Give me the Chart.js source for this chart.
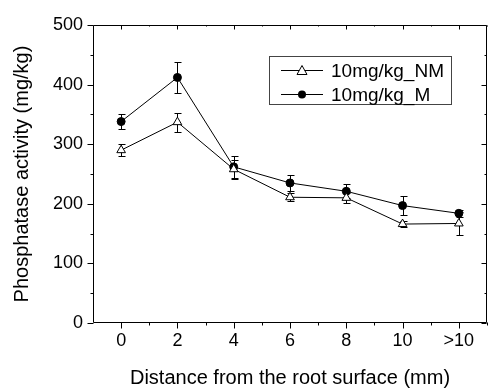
<!DOCTYPE html>
<html>
<head>
<meta charset="utf-8">
<script src="https://cdn.jsdelivr.net/npm/chart.js@4.4.1/dist/chart.umd.min.js"></script>
<style>
  html, body { margin: 0; padding: 0; background: #fff; }
  #wrap { width: 493px; height: 392px; }
</style>
</head>
<body>
<div id="wrap"><canvas id="chart"></canvas></div>
<script>
// distance categories (mm)
const categories = ["0", "2", "4", "6", "8", "10", ">10"];
const yTicks = [0, 100, 200, 300, 400, 500];

// 10mg/kg_NM (open triangles)
const nmValues = [290, 337, 258, 211, 210, 166, 167];
const nmErrors = [10, 16, 16, 7, 8, 5, 20];

// 10mg/kg_M (filled circles)
const mValues = [338, 412, 262, 235, 221, 197, 184];
const mErrors = [13, 26, 18, 14, 12, 16, 6];

const FONT = "'Liberation Sans', Arial, sans-serif";

function toPoints(vals) {
    return vals.map((v, i) => ({ x: i, y: v }));
}

// error bars + axis tick marks + legend
const decorations = {
    id: "decorations",
    beforeDatasetsDraw(chart) {
        const ctx = chart.ctx;
        const xs = chart.scales.x, ys = chart.scales.y;
        ctx.save();
        ctx.strokeStyle = "#000";
        ctx.lineWidth = 1;
        [[nmValues, nmErrors], [mValues, mErrors]].forEach(([vals, errs]) => {
            vals.forEach((v, i) => {
                const px = Math.round(xs.getPixelForValue(i)) + 0.5;
                const top = Math.round(ys.getPixelForValue(v + errs[i])) + 0.5;
                const bot = Math.round(ys.getPixelForValue(v - errs[i])) + 0.5;
                ctx.beginPath();
                ctx.moveTo(px, top); ctx.lineTo(px, bot);
                ctx.moveTo(px - 3, top); ctx.lineTo(px + 4, top);
                ctx.moveTo(px - 3, bot); ctx.lineTo(px + 4, bot);
                ctx.stroke();
            });
        });
        ctx.restore();
    },
    afterDraw(chart) {
        const ctx = chart.ctx;
        const a = chart.chartArea;
        const xs = chart.scales.x, ys = chart.scales.y;
        ctx.save();
        ctx.strokeStyle = "#000";
        ctx.lineWidth = 1;
        const L = Math.round(a.left) + 0.5, R = Math.round(a.right) - 0.5;
        const T = Math.round(a.top) + 0.5, B = Math.round(a.bottom) - 0.5;
        ctx.beginPath();
        ctx.rect(L, T, R - L, B - T);
        // y ticks: outward on left, inward on right
        for (let v = 0; v <= 500; v += 50) {
            const py = Math.round(ys.getPixelForValue(v)) + 0.5;
            const len = v % 100 === 0 ? 6 : 3;
            ctx.moveTo(L - len, py); ctx.lineTo(L, py);
            ctx.moveTo(R, py); ctx.lineTo(R - len + 1, py);
        }
        // x ticks: outward at bottom, inward at top
        for (let v = 0; v <= 6.5; v += 0.5) {
            const px = Math.round(xs.getPixelForValue(v)) + 0.5;
            const len = v % 1 === 0 ? 6 : 3;
            ctx.moveTo(px, B); ctx.lineTo(px, B + len);
            ctx.moveTo(px, T); ctx.lineTo(px, T + len - 2);
        }
        ctx.stroke();

        // legend
        const bx = 269.5, by = 56.5, bw = 182, bh = 48;
        ctx.strokeStyle = "#444";
        ctx.strokeRect(bx, by, bw, bh);
        ctx.font = "19px " + FONT;
        ctx.textBaseline = "middle";
        ctx.fillStyle = "#000";
        const rows = [
            { label: "10mg/kg_NM", style: "triangle", y: 70.5 },
            { label: "10mg/kg_M", style: "circle", y: 94.5 }
        ];
        rows.forEach(r => {
            ctx.strokeStyle = "#000";
            ctx.beginPath();
            ctx.moveTo(281, r.y); ctx.lineTo(323, r.y);
            ctx.stroke();
            if (r.style === "circle") {
                ctx.beginPath();
                ctx.arc(302, r.y, 4, 0, Math.PI * 2);
                ctx.fillStyle = "#000";
                ctx.fill();
            } else {
                ctx.beginPath();
                ctx.moveTo(302, r.y - 5);
                ctx.lineTo(307, r.y + 4);
                ctx.lineTo(297, r.y + 4);
                ctx.closePath();
                ctx.fillStyle = "#fff";
                ctx.fill();
                ctx.stroke();
            }
            ctx.fillStyle = "#000";
            ctx.fillText(r.label, 331, r.y + 1);
        });
        ctx.restore();
    }
};

new Chart(document.getElementById("chart"), {
    type: "line",
    data: {
        datasets: [
            {
                label: "10mg/kg_NM",
                data: toPoints(nmValues),
                borderColor: "#000",
                borderWidth: 1,
                pointStyle: "triangle",
                pointRadius: 5,
                pointBackgroundColor: "#fff",
                pointBorderColor: "#000",
                pointBorderWidth: 1,
                tension: 0
            },
            {
                label: "10mg/kg_M",
                data: toPoints(mValues),
                borderColor: "#000",
                borderWidth: 1,
                pointStyle: "circle",
                pointRadius: 4,
                pointBackgroundColor: "#000",
                pointBorderColor: "#000",
                tension: 0
            }
        ]
    },
    options: {
        responsive: true,
        maintainAspectRatio: false,
        animation: false,
        layout: { padding: { top: 25, right: 2, left: 0, bottom: 0 } },
        plugins: {
            legend: { display: false },
            tooltip: { enabled: false }
        },
        scales: {
            x: {
                type: "linear",
                min: -0.5,
                max: 6.5,
                afterBuildTicks: s => { s.ticks = categories.map((c, i) => ({ value: i })); },
                afterFit: s => { s.height = 69; },
                grid: { display: false, drawTicks: false },
                border: { display: false },
                ticks: {
                    color: "#000",
                    font: { family: FONT, size: 18 },
                    padding: 7,
                    maxRotation: 0,
                    autoSkip: false,
                    callback: v => categories[v]
                },
                title: {
                    display: true,
                    text: "Distance from the root surface (mm)",
                    color: "#000",
                    font: { family: FONT, size: 20 },
                    padding: { top: 0, bottom: 2 }
                }
            },
            y: {
                min: 0,
                max: 500,
                afterBuildTicks: s => { s.ticks = yTicks.map(v => ({ value: v })); },
                afterFit: s => { s.width = 93; },
                grid: { display: false, drawTicks: false },
                border: { display: false },
                ticks: {
                    color: "#000",
                    font: { family: FONT, size: 18 },
                    padding: 10
                },
                title: {
                    display: true,
                    text: "Phosphatase activity (mg/kg)",
                    color: "#000",
                    font: { family: FONT, size: 20 },
                    padding: { top: 10, bottom: 0 }
                }
            }
        }
    },
    plugins: [decorations]
});
</script>
</body>
</html>
